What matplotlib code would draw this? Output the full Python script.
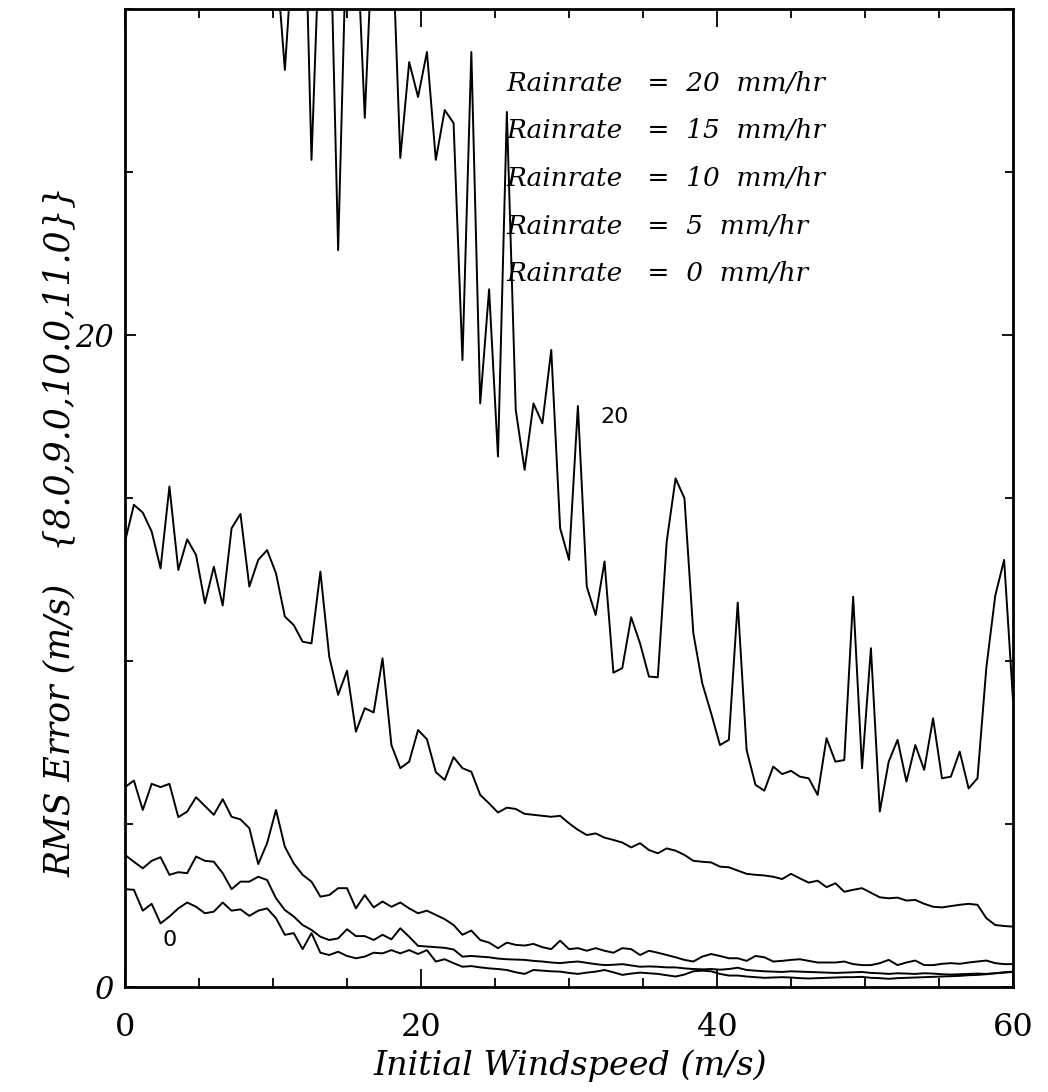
import numpy as np
import matplotlib
matplotlib.use("Agg")
import matplotlib.pyplot as plt
from matplotlib.ticker import MultipleLocator

# initial windspeed grid (m/s), 0.6 m/s steps
wind = np.linspace(0, 60, 101)

# RMS error (m/s); values > 30 are off the top
rain20 = [38, 37, 39, 36, 38, 37, 36, 38, 35, 37, 36, 35, 36, 34, 35, 34, 33, 31.7,
          28.13, 32.3, 36.0, 25.37, 33.0, 34.0, 22.6, 33.0, 33.0, 26.66, 33.0, 34.0,
          33.0, 25.43, 28.37, 27.30, 28.68, 25.37, 26.90, 26.50, 19.23, 28.68, 17.90,
          21.4, 16.27, 26.84, 17.7, 15.86, 17.90, 17.29, 19.54, 14.07, 13.10, 17.82,
          12.28, 11.41, 13.05, 9.64, 9.78, 11.34, 10.54, 9.52, 9.50, 13.66, 15.60,
          14.99, 10.85, 9.32, 8.4, 7.42, 7.58, 11.79, 7.27, 6.20, 6.02, 6.76, 6.53,
          6.63, 6.45, 6.40, 5.89, 7.63, 6.91, 6.96, 11.97, 6.71, 10.39, 5.38, 6.91,
          7.58, 6.30, 7.42, 6.66, 8.24, 6.40, 6.45, 7.22, 6.09, 6.40, 9.8, 12.0,
          13.10, 8.8]
rain15 = [13.66, 14.79, 14.55, 13.97, 12.84, 15.35, 12.79, 13.73, 13.25, 11.77, 12.89,
          11.70, 14.07, 14.51, 12.28, 13.10, 13.40, 12.69, 11.36, 11.10, 10.59, 10.54,
          12.74, 10.13, 8.96, 9.70, 7.83, 8.55, 8.42, 10.08, 7.42, 6.71, 6.91, 7.88,
          7.60, 6.59, 6.35, 7.05, 6.71, 6.60, 5.89, 5.63, 5.35, 5.50, 5.46, 5.31, 5.28,
          5.25, 5.22, 5.25, 5.02, 4.82, 4.66, 4.71, 4.58, 4.51, 4.43, 4.28, 4.41, 4.20,
          4.10, 4.25, 4.18, 4.05, 3.87, 3.84, 3.82, 3.69, 3.67, 3.57, 3.47, 3.44, 3.42,
          3.38, 3.31, 3.47, 3.33, 3.20, 3.26, 3.06, 3.18, 2.92, 2.98, 3.03, 2.89, 2.75,
          2.72, 2.74, 2.65, 2.67, 2.55, 2.46, 2.44, 2.48, 2.52, 2.55, 2.52, 2.11, 1.90,
          1.87, 1.85]
rain10 = [6.13, 6.33, 5.43, 6.23, 6.13, 6.23, 5.21, 5.38, 5.82, 5.55, 5.28, 5.76, 5.22,
          5.14, 4.87, 3.77, 4.41, 5.43, 4.30, 3.79, 3.44, 3.23, 2.77, 2.82, 3.03, 3.03,
          2.41, 2.82, 2.44, 2.62, 2.46, 2.59, 2.41, 2.26, 2.34, 2.21, 2.08, 1.90, 1.60,
          1.73, 1.44, 1.36, 1.19, 1.36, 1.29, 1.27, 1.32, 1.22, 1.16, 1.42, 1.16, 1.19,
          1.11, 1.19, 1.11, 1.05, 1.19, 1.16, 0.98, 1.11, 1.05, 0.98, 0.91, 0.83, 0.78,
          0.93, 1.01, 0.95, 0.88, 0.88, 0.80, 0.95, 0.91, 0.78, 0.80, 0.83, 0.85, 0.80,
          0.75, 0.75, 0.75, 0.78, 0.70, 0.67, 0.67, 0.73, 0.83, 0.67, 0.75, 0.81, 0.67,
          0.67, 0.71, 0.73, 0.71, 0.75, 0.78, 0.81, 0.73, 0.70, 0.70]
rain5 = [4.05, 3.84, 3.64, 3.87, 3.98, 3.44, 3.52, 3.49, 4.00, 3.87, 3.84, 3.49, 3.00,
         3.23, 3.23, 3.38, 3.28, 2.72, 2.36, 2.16, 1.90, 1.75, 1.54, 1.44, 1.49, 1.77,
         1.56, 1.56, 1.44, 1.60, 1.46, 1.80, 1.54, 1.26, 1.24, 1.22, 1.20, 1.15, 0.93,
         0.95, 0.93, 0.91, 0.87, 0.85, 0.84, 0.83, 0.80, 0.78, 0.75, 0.73, 0.76, 0.78,
         0.74, 0.70, 0.67, 0.68, 0.70, 0.66, 0.62, 0.63, 0.62, 0.60, 0.60, 0.57, 0.55,
         0.54, 0.55, 0.53, 0.55, 0.59, 0.52, 0.50, 0.48, 0.47, 0.46, 0.48, 0.47, 0.46,
         0.45, 0.44, 0.43, 0.44, 0.45, 0.46, 0.43, 0.42, 0.40, 0.42, 0.41, 0.40, 0.42,
         0.41, 0.39, 0.38, 0.39, 0.40, 0.41, 0.40, 0.42, 0.44, 0.46]
rain0 = [3.00, 2.98, 2.34, 2.55, 1.95, 2.16, 2.41, 2.59, 2.46, 2.26, 2.31, 2.59, 2.34,
         2.38, 2.18, 2.34, 2.41, 2.11, 1.60, 1.65, 1.16, 1.65, 1.05, 0.98, 1.08, 0.95,
         0.88, 0.93, 1.05, 1.03, 1.13, 1.03, 1.13, 1.01, 1.13, 0.78, 0.85, 0.73, 0.62,
         0.64, 0.60, 0.57, 0.55, 0.52, 0.45, 0.40, 0.52, 0.50, 0.48, 0.47, 0.43, 0.40,
         0.44, 0.47, 0.52, 0.45, 0.37, 0.41, 0.44, 0.42, 0.40, 0.36, 0.32, 0.38, 0.48,
         0.50, 0.48, 0.40, 0.35, 0.35, 0.32, 0.30, 0.28, 0.29, 0.30, 0.29, 0.27, 0.26,
         0.27, 0.28, 0.29, 0.30, 0.30, 0.31, 0.28, 0.27, 0.25, 0.27, 0.28, 0.29, 0.30,
         0.31, 0.32, 0.33, 0.34, 0.36, 0.37, 0.39, 0.42, 0.45, 0.47]

rates = [20, 15, 10, 5, 0]
series = [rain20, rain15, rain10, rain5, rain0]
for s in series:
    assert len(s) == len(wind), len(s)

SERIF_IT = dict(family="DejaVu Serif", style="italic")

fig = plt.figure(figsize=(10.48, 10.92), dpi=100)
ax = fig.add_axes([0.1193, 0.0962, 0.8473, 0.8956])

for s in series:
    ax.plot(wind, s, color="black", lw=1.4)

ax.set_xlim(0, 60)
ax.set_ylim(0, 30)
ax.xaxis.set_major_locator(MultipleLocator(20))
ax.xaxis.set_minor_locator(MultipleLocator(5))
ax.yaxis.set_major_locator(MultipleLocator(20))
ax.yaxis.set_minor_locator(MultipleLocator(5))
ax.tick_params(which="both", direction="in", top=True, right=True, width=1.3)
ax.tick_params(axis="x", which="major", length=13, pad=18)
ax.tick_params(axis="x", which="minor", length=6.5)
ax.tick_params(axis="y", which="major", length=8, pad=8)
ax.tick_params(axis="y", which="minor", length=6)
for sp in ax.spines.values():
    sp.set_linewidth(2)

for lab in ax.get_xticklabels():
    lab.set_fontfamily("DejaVu Serif")
    lab.set_fontsize(23)
for lab in ax.get_yticklabels():
    lab.set_fontfamily("DejaVu Serif")
    lab.set_fontstyle("italic")
    lab.set_fontsize(22)

# legend-like text block
for k, r in enumerate(rates):
    ax.text(0.430, 0.917 - k * 0.0487, f"Rainrate   =  {r}  mm/hr",
            transform=ax.transAxes, fontsize=19, va="baseline", **SERIF_IT)

# curve labels
ax.text(33.1, 17.47, "20", fontsize=16, family="DejaVu Sans", ha="center", va="center")
ax.text(3.0, 1.44, "0", fontsize=16, family="DejaVu Sans", ha="center", va="center")

fig.text(0.544, 0.0237, "Initial Windspeed (m/s)", ha="center", va="center",
         fontsize=24, **SERIF_IT)
fig.text(0.057, 0.513, "RMS Error (m/s)   {8.0,9.0,10.0,11.0}}", rotation=90,
         ha="center", va="center", fontsize=25, **SERIF_IT)

fig.savefig("out.png", dpi=100)
